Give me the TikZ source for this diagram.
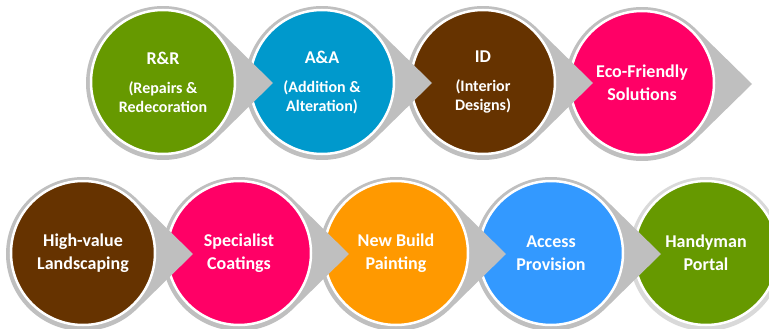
\documentclass[tikz,border=0pt]{standalone}
\usepackage{fontspec}
\setmainfont{Carlito}
\definecolor{ringgray}{HTML}{BFBFBF}
\definecolor{lightring}{HTML}{D9D9D9}
\definecolor{cgreen}{HTML}{669900}
\definecolor{cblue}{HTML}{0099CC}
\definecolor{cbrown}{HTML}{663300}
\definecolor{cpink}{HTML}{FF0066}
\definecolor{corange}{HTML}{FF9900}
\definecolor{clblue}{HTML}{3399FF}
\tikzset{
  pics/grayarrow/.style={code={
    \fill[ringgray] (45.57:77) arc[start angle=45.57,end angle=314.43,radius=77] -- (110,0) -- cycle;}},
  pics/grayring/.style={code={\fill[lightring] (0,0) circle[radius=77];}},
  disc/.style={circle, inner sep=0pt, minimum size=144pt, draw=white, line width=2.5pt,
    text=white, align=center, font=\fontsize{16}{19}\selectfont\bfseries},
  big/.style={font=\fontsize{18}{23}\selectfont\bfseries}
}
\begin{document}
\begin{tikzpicture}[x=1pt,y=-1pt]
\useasboundingbox (0,0) rectangle (769,329);
\clip (0,0) rectangle (769,329);
% Row 1 (drawn right to left)
\pic at (642,84) {grayarrow};
\node[disc, big, fill=cpink] (eco) at (642,83) {Eco-Friendly\\Solutions};
\pic at (483,83) {grayarrow};
\node[disc, fill=cbrown] (id) at (483,82) {{\fontsize{18}{22}\selectfont ID}\\[10pt](Interior\\Designs)};
\pic at (322,83) {grayarrow};
\node[disc, fill=cblue] (aa) at (322,82) {{\fontsize{18}{22}\selectfont A\&A}\\[10pt](Addition \&\\Alteration)};
\pic at (163,83) {grayarrow};
\node[disc, fill=cgreen] (rr) at (163,82) {{\fontsize{18}{22}\selectfont R\&R}\\[10pt](Repairs \&\\Redecoration};
% Row 2 (drawn right to left)
\pic at (706,254) {grayring};
\node[disc, big, fill=cgreen] (hp) at (706,253) {Handyman\\Portal};
\pic at (551,254) {grayarrow};
\node[disc, big, fill=clblue] (ap) at (551,253) {Access\\Provision};
\pic at (396,254) {grayarrow};
\node[disc, big, fill=corange] (nb) at (396,253) {New Build\\Painting};
\pic at (239,254) {grayarrow};
\node[disc, big, fill=cpink] (sc) at (239,253) {Specialist\\Coatings};
\pic at (83,254) {grayarrow};
\node[disc, big, fill=cbrown] (hv) at (83,253) {High-value\\Landscaping};
\end{tikzpicture}
\end{document}
